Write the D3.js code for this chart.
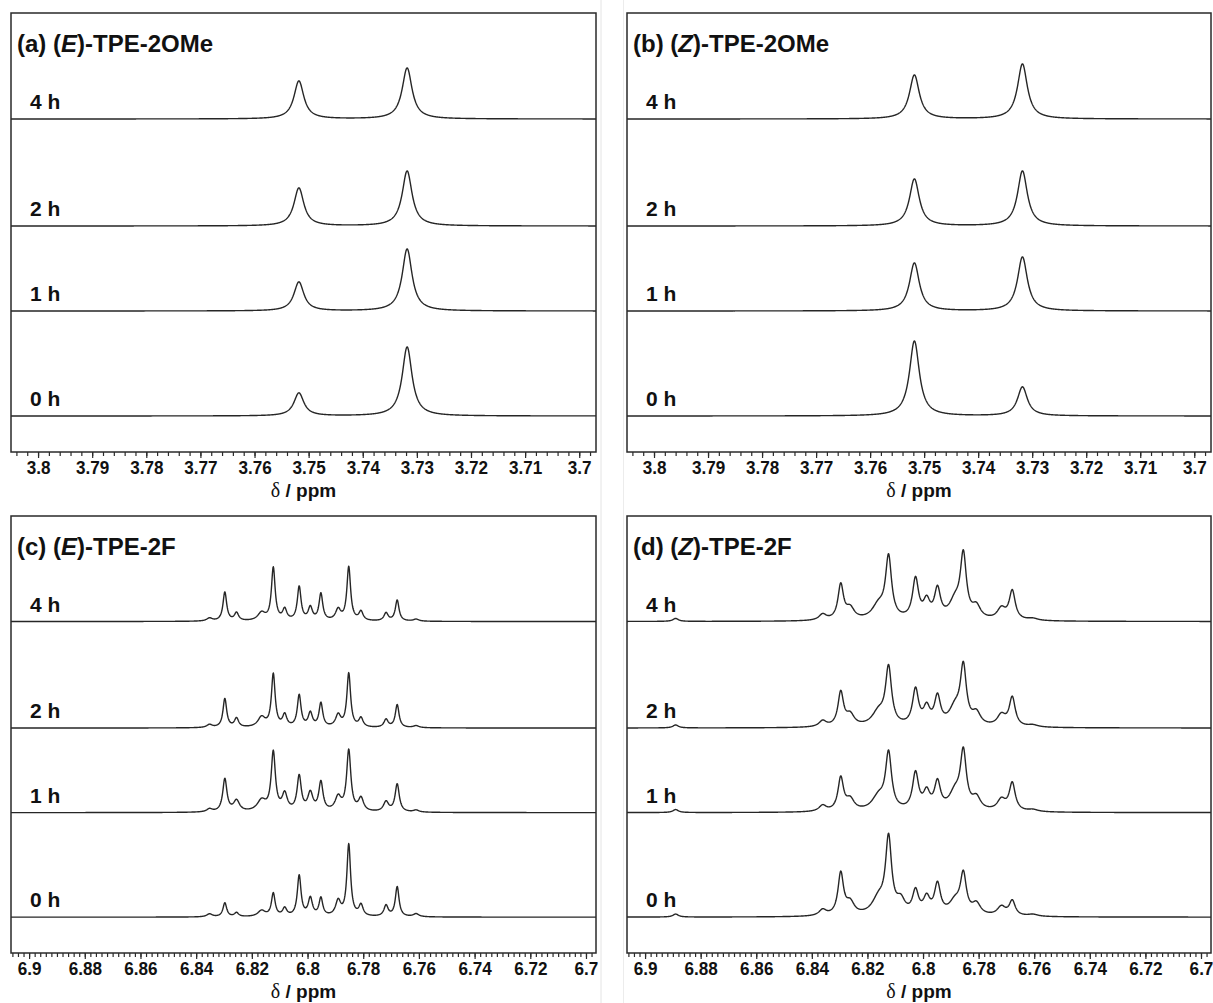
<!DOCTYPE html>
<html>
<head>
<meta charset="utf-8">
<script src="https://cdn.jsdelivr.net/npm/d3@7"></script>
<style>
  html, body { margin: 0; padding: 0; background: #fff; }
  svg { display: block; }
  .lbl { font-family: "Liberation Sans", Arial, sans-serif; font-weight: bold; fill: #111; }
</style>
</head>
<body>
<script>
// ---- data -------------------------------------------------------------
// time points of the stacked 1H NMR traces, bottom to top
const times = ["0 h", "1 h", "2 h", "4 h"];
// vertical stacking offset of each trace (arbitrary intensity units)
const stackOffsets = [0, 10.5, 19.0, 29.7];

// chemical-shift windows (ppm, left to right) and labelled ticks
const windowOMe = [3.805, 3.6969];
const windowF = [6.9065, 6.6964];
const tickLabelsOMe = [3.8, 3.79, 3.78, 3.77, 3.76, 3.75, 3.74, 3.73, 3.72, 3.71, 3.7];
const tickLabelsF = [6.9, 6.88, 6.86, 6.84, 6.82, 6.8, 6.78, 6.76, 6.74, 6.72, 6.7];
const minorStep = 0.002;

// resonances of each trace: [shift (ppm), height (a.u.), half width at half height (ppm)]
const peaksEOMe = {
  "4 h": [[3.7518, 3.8, 0.0011], [3.7318, 5.1, 0.0011]],
  "2 h": [[3.7518, 3.8, 0.0011], [3.7318, 5.5, 0.0011]],
  "1 h": [[3.7518, 2.9, 0.0011], [3.7318, 6.2, 0.0011]],
  "0 h": [[3.7518, 2.3, 0.0011], [3.7318, 6.9, 0.0011]]
};
const peaksZOMe = {
  "4 h": [[3.7518, 4.4, 0.0011], [3.7318, 5.5, 0.0011]],
  "2 h": [[3.7518, 4.7, 0.0011], [3.7318, 5.5, 0.0011]],
  "1 h": [[3.7518, 4.8, 0.0011], [3.7318, 5.4, 0.0011]],
  "0 h": [[3.7518, 7.5, 0.0011], [3.7318, 2.9, 0.0011]]
};
const peaksEF = {
  "4 h": [[6.8352, 0.3, 0.0012], [6.8297, 2.9, 0.0008], [6.8255, 0.8, 0.0009], [6.8165, 0.8, 0.0016],
          [6.8123, 5.3, 0.0008], [6.8082, 1.1, 0.0009], [6.8030, 3.4, 0.0008], [6.7990, 1.3, 0.0009],
          [6.7952, 2.7, 0.0008], [6.7890, 1.1, 0.0011], [6.7852, 5.4, 0.0008], [6.7808, 0.9, 0.0009],
          [6.7718, 0.8, 0.0009], [6.7678, 2.1, 0.0008], [6.7610, 0.2, 0.0012]],
  "2 h": [[6.8352, 0.3, 0.0012], [6.8297, 2.9, 0.0008], [6.8255, 0.9, 0.0009], [6.8165, 1.0, 0.0016],
          [6.8123, 5.3, 0.0008], [6.8082, 1.2, 0.0009], [6.8030, 3.2, 0.0008], [6.7990, 1.4, 0.0009],
          [6.7952, 2.4, 0.0008], [6.7890, 1.2, 0.0011], [6.7852, 5.4, 0.0008], [6.7808, 0.9, 0.0009],
          [6.7718, 0.8, 0.0009], [6.7678, 2.3, 0.0008], [6.7610, 0.2, 0.0012]],
  "1 h": [[6.8352, 0.3, 0.0012], [6.8297, 3.3, 0.0009], [6.8255, 1.1, 0.0013], [6.8165, 1.1, 0.0019],
          [6.8123, 5.9, 0.0009], [6.8082, 1.7, 0.0011], [6.8030, 3.5, 0.0009], [6.7990, 1.8, 0.0011],
          [6.7952, 2.9, 0.0009], [6.7890, 1.4, 0.0013], [6.7852, 6.1, 0.0009], [6.7808, 1.3, 0.0011],
          [6.7718, 1.0, 0.0011], [6.7678, 2.8, 0.0009], [6.7610, 0.2, 0.0012]],
  "0 h": [[6.8352, 0.3, 0.0012], [6.8297, 1.4, 0.0008], [6.8255, 0.4, 0.0009], [6.8165, 0.6, 0.0016],
          [6.8123, 2.3, 0.0008], [6.8082, 0.8, 0.0009], [6.8030, 4.1, 0.0008], [6.7990, 1.8, 0.0009],
          [6.7952, 1.8, 0.0008], [6.7890, 1.5, 0.0011], [6.7852, 7.2, 0.0008], [6.7808, 1.1, 0.0009],
          [6.7718, 1.1, 0.0009], [6.7678, 3.0, 0.0008], [6.7610, 0.3, 0.0012]]
};
const peaksZF = {
  "4 h": [[6.8890, 0.3, 0.0012], [6.8361, 0.6, 0.0016], [6.8296, 3.5, 0.0012], [6.8262, 1.1, 0.0018],
          [6.8160, 1.4, 0.0028], [6.8124, 6.1, 0.0013], [6.8027, 4.0, 0.0013], [6.7987, 1.7, 0.0014],
          [6.7948, 2.9, 0.0013], [6.7885, 1.7, 0.0025], [6.7855, 6.2, 0.0013], [6.7808, 1.2, 0.0018],
          [6.7718, 1.1, 0.0018], [6.7679, 2.9, 0.0013], [6.7605, 0.2, 0.0022]],
  "2 h": [[6.8890, 0.3, 0.0012], [6.8361, 0.6, 0.0016], [6.8296, 3.4, 0.0012], [6.8262, 1.1, 0.0018],
          [6.8160, 1.4, 0.0028], [6.8124, 5.7, 0.0013], [6.8027, 3.6, 0.0013], [6.7987, 1.7, 0.0014],
          [6.7948, 2.8, 0.0013], [6.7885, 1.7, 0.0025], [6.7855, 5.7, 0.0013], [6.7808, 1.2, 0.0018],
          [6.7718, 1.1, 0.0018], [6.7679, 2.9, 0.0013], [6.7605, 0.2, 0.0022]],
  "1 h": [[6.8890, 0.3, 0.0012], [6.8361, 0.6, 0.0016], [6.8296, 3.3, 0.0012], [6.8262, 1.1, 0.0018],
          [6.8160, 1.4, 0.0028], [6.8124, 5.6, 0.0013], [6.8027, 3.7, 0.0013], [6.7987, 1.7, 0.0014],
          [6.7948, 2.7, 0.0013], [6.7885, 1.7, 0.0025], [6.7855, 5.6, 0.0013], [6.7808, 1.2, 0.0018],
          [6.7718, 1.1, 0.0018], [6.7679, 2.8, 0.0013], [6.7605, 0.2, 0.0022]],
  "0 h": [[6.8890, 0.3, 0.0012], [6.8361, 0.6, 0.0016], [6.8296, 4.2, 0.0012], [6.8262, 1.2, 0.0018],
          [6.8160, 1.6, 0.0028], [6.8124, 7.5, 0.0013], [6.8080, 1.3, 0.0018], [6.8027, 2.3, 0.0013],
          [6.7987, 1.6, 0.0014], [6.7948, 3.0, 0.0013], [6.7885, 1.3, 0.0025], [6.7855, 3.9, 0.0013],
          [6.7808, 1.1, 0.0018], [6.7718, 0.9, 0.0018], [6.7679, 1.5, 0.0013], [6.7605, 0.2, 0.0022]]
};

// ---- layout -----------------------------------------------------------
const W = 1213, H = 1003;
const intensityDomain = [-3.6, 40.3];

const panels = [
  { tag: "(a) (", iso: "E", name: ")-TPE-2OMe", x0: 11, x1: 596, y0: 13, y1: 452,
    win: windowOMe, ticks: tickLabelsOMe, peaks: peaksEOMe },
  { tag: "(b) (", iso: "Z", name: ")-TPE-2OMe", x0: 627, x1: 1211, y0: 13, y1: 452,
    win: windowOMe, ticks: tickLabelsOMe, peaks: peaksZOMe },
  { tag: "(c) (", iso: "E", name: ")-TPE-2F", x0: 11, x1: 596, y0: 516, y1: 953,
    win: windowF, ticks: tickLabelsF, peaks: peaksEF },
  { tag: "(d) (", iso: "Z", name: ")-TPE-2F", x0: 627, x1: 1211, y0: 516, y1: 953,
    win: windowF, ticks: tickLabelsF, peaks: peaksZF }
];

const svg = d3.select("body").append("svg")
  .attr("width", W).attr("height", H)
  .attr("viewBox", `0 0 ${W} ${H}`);

// faint seams between the sub-figures
svg.append("line").attr("x1", 601).attr("x2", 601).attr("y1", 0).attr("y2", H)
  .attr("stroke", "#e4e4e4").attr("stroke-width", 1);
svg.append("line").attr("x1", 623.5).attr("x2", 623.5).attr("y1", 0).attr("y2", H)
  .attr("stroke", "#ececec").attr("stroke-width", 1);

// Lorentzian sum for one trace
function spectrum(peaks, ppm) {
  let s = 0;
  for (const [c, h, w] of peaks) {
    const u = (ppm - c) / w;
    s += h / (1 + u * u);
  }
  return s;
}

const fmt = v => String(+v.toFixed(3));
const sans = "'Liberation Sans', Arial, sans-serif";

panels.forEach(p => {
  const g = svg.append("g");
  const x = d3.scaleLinear().domain(p.win).range([p.x0, p.x1]);
  const y = d3.scaleLinear().domain(intensityDomain).range([p.y1, p.y0]);

  // sampling grid along the shift axis
  const n = Math.round((p.x1 - p.x0) * 3);
  const grid = d3.range(n + 1).map(i => p.win[0] + (p.win[1] - p.win[0]) * i / n);

  const line = d3.line().x(d => x(d[0])).y(d => y(d[1]));

  times.forEach((t, i) => {
    const pts = grid.map(ppm => [ppm, stackOffsets[i] + spectrum(p.peaks[t], ppm)]);
    g.append("path").datum(pts)
      .attr("d", line)
      .attr("fill", "none")
      .attr("stroke", "#262626")
      .attr("stroke-width", 1.4)
      .attr("stroke-linejoin", "round");

    g.append("text").attr("class", "lbl")
      .attr("x", p.x0 + 19)
      .attr("y", y(stackOffsets[i]) - 10)
      .attr("font-size", 21)
      .text(t);
  });

  // frame
  g.append("rect")
    .attr("x", p.x0).attr("y", p.y0)
    .attr("width", p.x1 - p.x0).attr("height", p.y1 - p.y0)
    .attr("fill", "none").attr("stroke", "#2a2a2a").attr("stroke-width", 1.5);

  // minor ticks
  const lo = Math.min(...p.win), hi = Math.max(...p.win);
  const minor = d3.range(Math.ceil(lo / minorStep - 1e-6), Math.floor(hi / minorStep + 1e-6) + 1)
    .map(k => +(k * minorStep).toFixed(4));
  const minorAxis = d3.axisBottom(x).tickValues(minor).tickSize(4).tickFormat("");
  const ga = g.append("g").attr("transform", `translate(0,${p.y1})`).call(minorAxis);
  ga.select(".domain").remove();
  ga.selectAll("line").attr("stroke", "#2a2a2a").attr("stroke-width", 1.2);

  // labelled ticks
  const majorAxis = d3.axisBottom(x).tickValues(p.ticks).tickSize(6).tickPadding(3).tickFormat(fmt);
  const gm = g.append("g").attr("transform", `translate(0,${p.y1})`).call(majorAxis);
  gm.select(".domain").remove();
  gm.selectAll("line").attr("stroke", "#2a2a2a").attr("stroke-width", 1.2);
  gm.selectAll("text")
    .attr("font-family", sans)
    .attr("font-weight", "bold")
    .attr("font-size", 19)
    .attr("transform", "scale(0.9,1)")
    .attr("fill", "#111");

  // axis title
  const at = g.append("text")
    .attr("x", (p.x0 + p.x1) / 2)
    .attr("y", p.y1 + 45)
    .attr("text-anchor", "middle")
    .attr("fill", "#111");
  at.append("tspan").attr("font-family", "'Liberation Serif', 'Times New Roman', serif")
    .attr("font-size", 20).text("δ");
  at.append("tspan").attr("font-family", sans)
    .attr("font-weight", "bold").attr("font-size", 19).text(" / ppm");

  // panel title
  const tt = g.append("text").attr("class", "lbl")
    .attr("x", p.x0 + 6).attr("y", p.y0 + 39)
    .attr("font-size", 24);
  tt.append("tspan").text(p.tag);
  tt.append("tspan").attr("font-style", "italic").text(p.iso);
  tt.append("tspan").text(p.name);
});
</script>
</body>
</html>
